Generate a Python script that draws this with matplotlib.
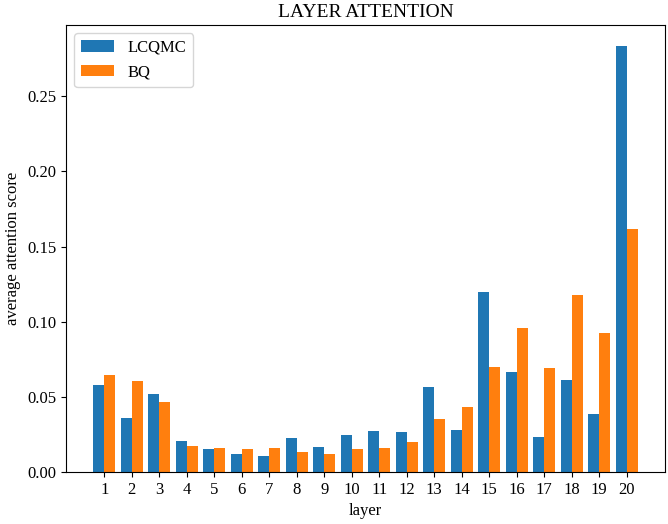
import numpy as np
import matplotlib
matplotlib.use("Agg")
import matplotlib.pyplot as plt

layers = list(range(1, 21))
lcqmc = [0.058, 0.036, 0.052, 0.0207, 0.0153, 0.012, 0.0107, 0.0227, 0.0167, 0.0247,
         0.0273, 0.0267, 0.0567, 0.028, 0.120, 0.0667, 0.0233, 0.0613, 0.0387, 0.2833]
bq = [0.0647, 0.0607, 0.0467, 0.0173, 0.016, 0.0153, 0.016, 0.0133, 0.012, 0.0153,
      0.016, 0.020, 0.0353, 0.0433, 0.070, 0.096, 0.0693, 0.118, 0.0927, 0.162]

plt.rcParams['font.family'] = ['Liberation Serif', 'DejaVu Serif']

fig = plt.figure(figsize=(6.68, 5.24), dpi=100)
ax = fig.add_axes([66/668, 1-472/524, (665-66)/668, (472-25)/524])
x = np.array(layers)
ax.bar(x - 0.2, lcqmc, width=0.4, color='#1f77b4', label='LCQMC')
ax.bar(x + 0.2, bq, width=0.4, color='#ff7f0e', label='BQ')
ax.set_xticks(x)
ax.set_xticklabels([str(l) for l in layers])
ax.tick_params(labelsize=12)
ax.set_xlabel('layer', fontsize=12)
ax.set_ylabel('average attention score', fontsize=12)
ax.set_title('LAYER ATTENTION', fontsize=14)
ax.legend(loc='upper left', fontsize=12)
fig.savefig('out.png', dpi=100)
